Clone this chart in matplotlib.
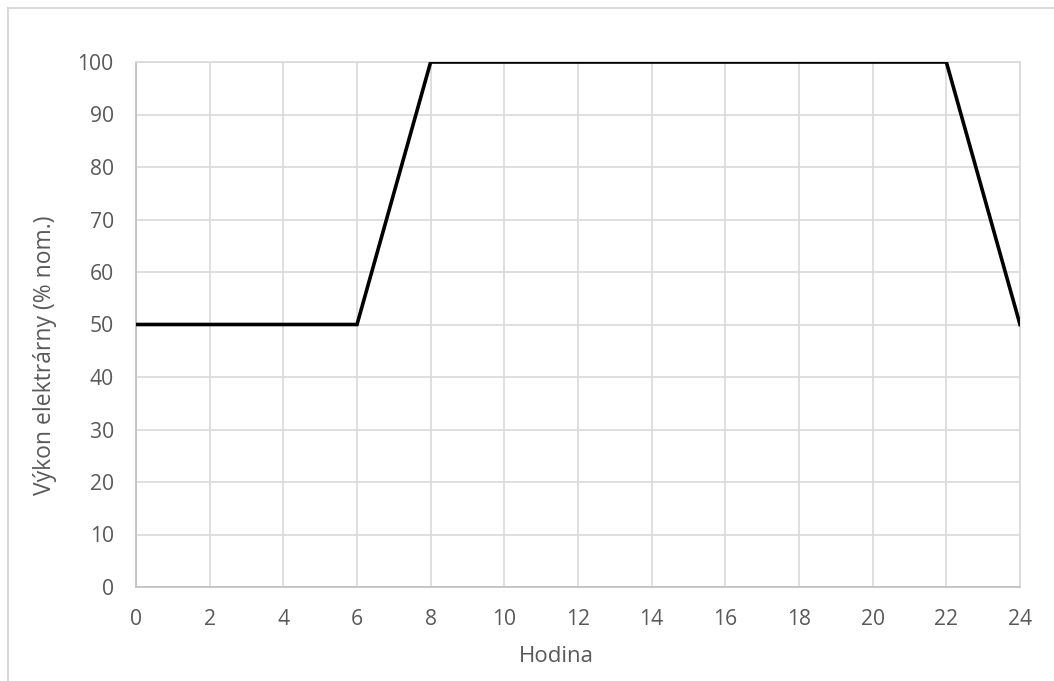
import matplotlib.pyplot as plt
from matplotlib.lines import Line2D

hours = [0, 6, 8, 22, 24]
power = [50, 50, 100, 100, 50]
x_ticks = list(range(0, 25, 2))
y_ticks = list(range(0, 101, 10))

plt.rcParams['font.family'] = ['Open Sans', 'DejaVu Sans']
txt = '#595959'
grid = '#d9d9d9'
W, H = 1054, 681

fig = plt.figure(figsize=(W / 100, H / 100), dpi=100)
ax = fig.add_axes([136 / W, 1 - 587 / H, 884 / W, 525 / H])

ax.plot(hours, power, color='black', linewidth=2.6, solid_joinstyle='miter', zorder=3)

ax.set_xlim(0, 24)
ax.set_ylim(0, 100)
ax.set_xticks(x_ticks)
ax.set_yticks(y_ticks)
ax.grid(True, color=grid, linewidth=1.2)
for s in ax.spines.values():
    s.set_color(grid)
    s.set_linewidth(1.2)
ax.spines['left'].set_color('#bfbfbf')
ax.spines['bottom'].set_color('#bfbfbf')
ax.tick_params(length=0, labelsize=15.2, colors=txt)
ax.tick_params(axis='y', pad=16)
ax.tick_params(axis='x', pad=16)

# axis titles
fig.text(556 / W, 1 - 656 / H, 'Hodina', fontsize=16, color=txt, ha='center', va='center')
fig.text(45 / W, 1 - 355 / H, 'Výkon elektrárny (% nom.)', fontsize=16.5, color=txt,
         ha='center', va='center', rotation=90)

# chart frame, open at the right and bottom
fig.add_artist(Line2D([8 / W, 8 / W], [0, 1 - 8 / H], transform=fig.transFigure, color=grid, linewidth=1.5))
fig.add_artist(Line2D([8 / W, 1], [1 - 8 / H, 1 - 8 / H], transform=fig.transFigure, color=grid, linewidth=1.5))

fig.savefig('out.png', dpi=100)
